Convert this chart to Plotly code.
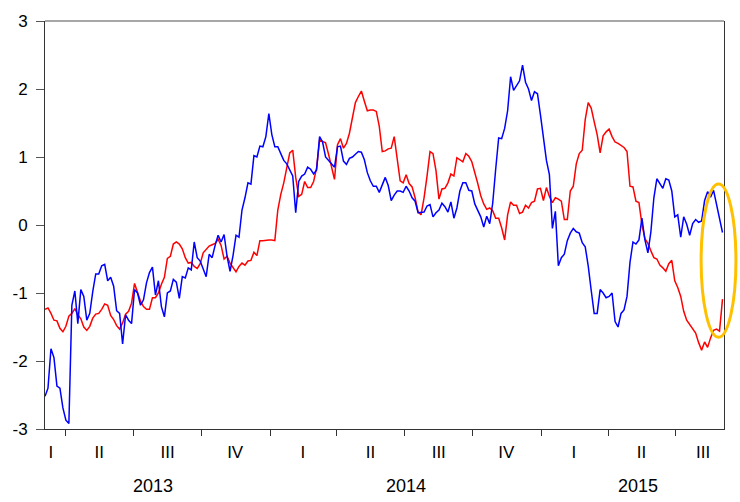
import plotly.graph_objects as go
import pandas as pd

# observation dates (evenly spaced samples, March 2013 - September 2015)
dates = pd.date_range("2013-03-04", "2015-09-02", periods=228)

blue_series = [
    -2.52, -2.40, -1.82, -1.95, -2.37, -2.40, -2.69, -2.87, -2.92, -1.18,
    -0.97, -1.45, -0.95, -1.05, -1.40, -1.30, -0.98, -0.72, -0.72, -0.60,
    -0.58, -0.82, -0.77, -0.90, -1.26, -1.30, -1.75, -1.32, -1.40, -1.45,
    -0.95, -1.00, -1.18, -1.10, -0.85, -0.70, -0.62, -1.03, -0.82, -1.20,
    -1.35, -1.00, -0.97, -0.80, -0.84, -1.08, -0.76, -0.78, -0.63, -0.66,
    -0.25, -0.48, -0.53, -0.66, -0.76, -0.43, -0.48, -0.30, -0.15, -0.25,
    -0.14, -0.46, -0.68, -0.45, -0.15, -0.18, 0.22, 0.40, 0.62, 0.60,
    1.02, 1.00, 1.16, 1.15, 1.30, 1.64, 1.33, 1.15, 1.15, 1.05,
    0.95, 0.90, 0.82, 0.72, 0.18, 0.64, 0.72, 0.75, 0.85, 0.82,
    0.75, 0.81, 1.30, 1.22, 1.00, 0.95, 0.89, 0.85, 1.15, 1.16,
    0.94, 0.89, 0.98, 1.00, 1.04, 1.08, 1.07, 0.96, 0.77, 0.65,
    0.57, 0.57, 0.48, 0.58, 0.70, 0.58, 0.36, 0.44, 0.50, 0.50,
    0.48, 0.57, 0.50, 0.40, 0.35, 0.18, 0.18, 0.19, 0.28, 0.30,
    0.12, 0.18, 0.22, 0.32, 0.27, 0.19, 0.34, 0.10, 0.25, 0.50,
    0.62, 0.62, 0.51, 0.50, 0.31, 0.22, 0.12, -0.03, 0.13, 0.02,
    0.32, 0.82, 1.28, 1.27, 1.42, 1.68, 2.18, 1.98, 2.05, 2.12,
    2.35, 2.10, 2.00, 1.83, 1.96, 1.93, 1.62, 1.25, 0.95, 0.74,
    -0.05, 0.20, -0.60, -0.48, -0.43, -0.23, -0.12, -0.05, -0.10, -0.12,
    -0.26, -0.32, -0.60, -0.96, -1.30, -1.30, -0.95, -1.00, -1.07, -1.05,
    -1.00, -1.42, -1.50, -1.30, -1.25, -1.05, -0.55, -0.25, -0.28, -0.22,
    0.10, -0.22, -0.41, -0.10, 0.40, 0.68, 0.60, 0.54, 0.68, 0.66,
    0.50, 0.12, 0.15, -0.18, 0.12, 0.01, -0.15, 0.02, 0.08, 0.04,
    0.06, 0.36, 0.49, 0.41, 0.51, 0.30, 0.06, -0.11,
]

red_series = [
    -1.24, -1.22, -1.30, -1.40, -1.41, -1.52, -1.57, -1.49, -1.34, -1.30,
    -1.23, -1.32, -1.38, -1.50, -1.55, -1.49, -1.37, -1.31, -1.30, -1.24,
    -1.16, -1.18, -1.33, -1.39, -1.48, -1.53, -1.44, -1.31, -1.27, -1.15,
    -0.86, -0.99, -1.12, -1.20, -1.24, -1.24, -1.07, -1.07, -1.00, -0.87,
    -0.77, -0.49, -0.46, -0.28, -0.25, -0.28, -0.35, -0.48, -0.56, -0.55,
    -0.61, -0.64, -0.57, -0.41, -0.36, -0.31, -0.29, -0.27, -0.21, -0.30,
    -0.50, -0.46, -0.56, -0.63, -0.69, -0.61, -0.56, -0.59, -0.53, -0.52,
    -0.40, -0.45, -0.23, -0.23, -0.22, -0.22, -0.22, -0.23, 0.22, 0.45,
    0.62, 0.85, 1.06, 1.10, 0.70, 0.42, 0.45, 0.64, 0.55, 0.55,
    0.64, 0.84, 1.25, 1.23, 1.21, 1.04, 0.87, 0.67, 1.18, 1.27,
    1.13, 1.20, 1.35, 1.58, 1.80, 1.89, 1.97, 1.82, 1.68, 1.69,
    1.69, 1.67, 1.45, 1.08, 1.09, 1.12, 1.13, 1.30, 0.99, 0.65,
    0.62, 0.74, 0.61, 0.56, 0.40, 0.19, 0.15, 0.40, 0.72, 1.08,
    1.05, 0.80, 0.38, 0.53, 0.54, 0.62, 0.75, 0.72, 0.99, 0.96,
    0.93, 1.05, 1.01, 0.93, 0.78, 0.61, 0.43, 0.31, 0.23, 0.25,
    0.21, 0.10, 0.10, -0.04, -0.22, 0.15, 0.34, 0.29, 0.29, 0.17,
    0.19, 0.29, 0.25, 0.33, 0.35, 0.53, 0.54, 0.36, 0.55, 0.42,
    0.33, 0.40, 0.38, 0.35, 0.08, 0.08, 0.50, 0.57, 0.90, 1.05,
    1.10, 1.55, 1.80, 1.72, 1.52, 1.33, 1.06, 1.31, 1.37, 1.41,
    1.30, 1.22, 1.20, 1.17, 1.14, 1.08, 0.57, 0.56, 0.35, 0.33,
    0.01, -0.20, -0.27, -0.38, -0.48, -0.50, -0.59, -0.63, -0.68, -0.57,
    -0.52, -0.82, -0.92, -1.05, -1.27, -1.40, -1.47, -1.53, -1.59, -1.73,
    -1.84, -1.72, -1.80, -1.66, -1.55, -1.53, -1.56, -1.09,
]

quarter_label_dates = ["2013-03-12", "2013-05-16", "2013-08-16", "2013-11-15",
                       "2014-02-14", "2014-05-16", "2014-08-16", "2014-11-15",
                       "2015-02-14", "2015-05-16", "2015-08-07"]
quarter_labels = ["I", "II", "III", "IV", "I", "II", "III", "IV", "I", "II", "III"]
quarter_starts = ["2013-04-01", "2013-07-01", "2013-10-01", "2014-01-01", "2014-04-01",
                  "2014-07-01", "2014-10-01", "2015-01-01", "2015-04-01", "2015-07-01"]
year_label_dates = ["2013-07-27", "2014-07-03", "2015-05-11"]
year_labels = ["2013", "2014", "2015"]
y_ticks = [-3, -2, -1, 0, 1, 2, 3]
y_tick_labels = ["-3", "-2", "-1", "0", "1", "2", "3"]

FONT = "Arial, 'Liberation Sans', sans-serif"

fig = go.Figure()
fig.add_trace(go.Scatter(x=dates, y=red_series, mode="lines",
                         line=dict(color="#FF0000", width=1.5), name="red"))
fig.add_trace(go.Scatter(x=dates, y=blue_series, mode="lines",
                         line=dict(color="#0000FF", width=1.5), name="blue"))

for d, t in zip(year_label_dates, year_labels):
    fig.add_annotation(x=d, xref="x", y=-0.1407, yref="paper", text=t,
                       showarrow=False, yanchor="middle", xanchor="center",
                       font=dict(family=FONT, size=18, color="black"))

# highlight ellipse at the right end
fig.add_shape(type="circle", xref="paper", yref="paper",
              x0=0.9663, x1=1.0176, y0=0.2251, y1=0.6007,
              line=dict(color="#FFC000", width=3), layer="above")
# top frame line
fig.add_shape(type="line", xref="paper", yref="paper", x0=0, x1=1, y0=1, y1=1,
              line=dict(color="#8a8a8a", width=1.5), layer="above")

fig.update_layout(
    width=740, height=502,
    margin=dict(l=41, r=16, t=19, b=73),
    plot_bgcolor="white", paper_bgcolor="white",
    showlegend=False,
    font=dict(family=FONT, size=17, color="black"),
)
fig.update_xaxes(
    type="date", range=["2013-03-04", "2015-09-04"],
    tickmode="array", tickvals=quarter_label_dates, ticktext=quarter_labels,
    ticks="", showgrid=False, zeroline=False,
    showline=True, linecolor="#333333", linewidth=1,
    ticklabelstandoff=8,
    minor=dict(tickmode="array", tickvals=quarter_starts, ticks="outside",
               ticklen=6, tickcolor="#333333", tickwidth=1, showgrid=False),
)
fig.update_yaxes(
    range=[-3, 3], tickmode="array", tickvals=y_ticks, ticktext=y_tick_labels,
    ticks="outside", ticklen=8, tickcolor="#555555", tickwidth=1,
    showgrid=False, zeroline=False,
    showline=True, mirror=True, linecolor="#333333", linewidth=1,
    ticklabelstandoff=5,
)

fig.write_html("out.html", config={"displayModeBar": False},
               post_script="document.body.style.margin='0px';document.body.style.overflow='hidden';")
